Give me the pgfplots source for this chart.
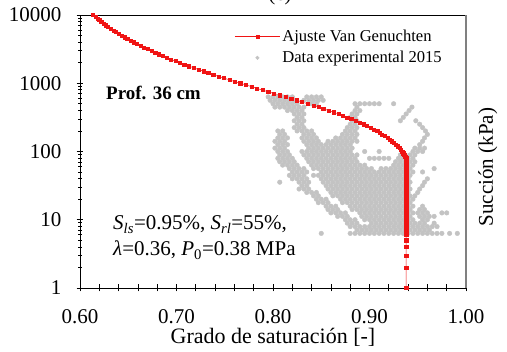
\documentclass[border=0pt]{standalone}
\usepackage{fontspec}
\setmainfont{Liberation Serif}
\usepackage{pgfplots}
\pgfplotsset{compat=1.18}
\definecolor{lgray}{RGB}{195,195,195}
\definecolor{vgred}{RGB}{240,20,20}
\begin{document}
\begin{tikzpicture}
\begin{axis}[
  at={(80pt,64pt)}, anchor=south west,
  scale only axis, width=386pt, height=273pt,
  xmin=0.6, xmax=1.0, ymin=1, ymax=10000, ymode=log,
  xtick={0.6,0.62,0.64,0.66,0.68,0.7,0.72,0.74,0.76,0.78,0.8,0.82,0.84,0.86,0.88,0.9,0.92,0.94,0.96,0.98,1.0},
  xticklabels={0.60,,,,,0.70,,,,,0.80,,,,,0.90,,,,,1.00},
  ytick={1,10,100,1000,10000},
  yticklabels={1,10,100,1000,10000},
  tick pos=left,
  tick align=center,
  major tick length=7pt,
  minor tick length=4pt,
  tick style={black, line width=0.8pt},
  axis line style={black, line width=0.9pt},
  /pgf/number format/assume math mode=true,
  tick label style={font=\fontsize{21}{25}\selectfont},
  xticklabel style={anchor=base, inner sep=0pt, yshift=-32pt},
  yticklabel style={anchor=east, inner sep=0pt, xshift=-15pt},
  xlabel={Grado de saturación [-]},
  xlabel style={at={(axis description cs:0.5,-0.205)}, anchor=base, inner sep=0pt, font=\fontsize{22}{26}\selectfont},
  ylabel={Succión (kPa)},
  ylabel style={at={(axis description cs:1.031,0.443)}, anchor=north, inner sep=0pt, font=\fontsize{21}{25}\selectfont},
  legend style={at={(axis description cs:0.40,0.952)}, anchor=north west, draw=none, fill=none, inner sep=0pt, row sep=4pt, font=\fontsize{16.6}{19}\selectfont},
  legend cell align=left,
  clip=true,
]
\addlegendimage{legend image code/.code={\draw[vgred, line width=0.7pt] (0pt,0pt) -- (45pt,0pt); \fill[vgred] (21.2pt,-1.3pt) rectangle (23.8pt,1.3pt);}}
\addlegendentry{Ajuste Van Genuchten}
\addlegendimage{legend image code/.code={\fill[lgray] (22.5pt,0pt) circle (1.8pt);}}
\addlegendentry{Data experimental 2015}

% experimental data 2015 (degree of saturation, suction kPa)
\addplot[forget plot, only marks, mark=*, mark size=2.3pt, lgray, mark options={draw=lgray, fill=lgray}] coordinates {
(0.795,631)(0.800,631)(0.805,631)(0.810,631)(0.815,631)(0.820,631)(0.835,631)(0.840,631)(0.845,631)(0.850,631)
(0.797,562)(0.802,562)(0.807,562)(0.812,562)(0.817,562)(0.822,562)(0.832,562)(0.837,562)(0.842,562)(0.847,562)(0.852,562)
(0.800,501)(0.805,501)(0.810,501)(0.815,501)(0.820,501)(0.825,501)(0.840,501)(0.845,501)(0.885,501)(0.890,501)(0.895,501)(0.900,501)(0.905,501)(0.910,501)(0.925,501)
(0.802,447)(0.807,447)(0.812,447)(0.817,447)(0.822,447)(0.827,447)(0.832,447)(0.887,447)(0.944,447)
(0.815,398)(0.820,398)(0.825,398)(0.830,398)(0.885,398)(0.890,398)(0.941,398)
(0.822,355)(0.827,355)(0.832,355)(0.882,355)(0.887,355)(0.938,355)
(0.825,316)(0.830,316)(0.880,316)(0.885,316)(0.935,316)
(0.822,282)(0.827,282)(0.832,282)(0.882,282)(0.887,282)(0.932,282)(0.948,282)
(0.825,251)(0.830,251)(0.880,251)(0.885,251)(0.952,251)
(0.822,224)(0.827,224)(0.832,224)(0.877,224)(0.882,224)(0.887,224)(0.955,224)
(0.805,200)(0.810,200)(0.825,200)(0.830,200)(0.835,200)(0.840,200)(0.875,200)(0.880,200)(0.885,200)(0.958,200)
(0.807,178)(0.812,178)(0.832,178)(0.837,178)(0.842,178)(0.872,178)(0.877,178)(0.882,178)(0.887,178)(0.960,178)
(0.805,158)(0.810,158)(0.815,158)(0.830,158)(0.835,158)(0.840,158)(0.845,158)(0.865,158)(0.870,158)(0.875,158)(0.880,158)(0.885,158)(0.957,158)
(0.802,141)(0.807,141)(0.812,141)(0.832,141)(0.837,141)(0.842,141)(0.847,141)(0.857,141)(0.862,141)(0.867,141)(0.872,141)(0.877,141)(0.882,141)(0.887,141)(0.955,141)
(0.805,126)(0.810,126)(0.815,126)(0.835,126)(0.840,126)(0.845,126)(0.850,126)(0.855,126)(0.860,126)(0.865,126)(0.870,126)(0.875,126)(0.880,126)(0.952,126)
(0.802,112)(0.807,112)(0.812,112)(0.837,112)(0.842,112)(0.847,112)(0.852,112)(0.857,112)(0.862,112)(0.867,112)(0.872,112)(0.877,112)(0.882,112)(0.947,112)(0.952,112)(0.957,112)
(0.805,100)(0.810,100)(0.815,100)(0.830,100)(0.835,100)(0.840,100)(0.845,100)(0.850,100)(0.855,100)(0.860,100)(0.865,100)(0.870,100)(0.875,100)(0.880,100)(0.895,100)(0.910,100)(0.945,100)(0.950,100)(0.955,100)
(0.807,89.1)(0.812,89.1)(0.817,89.1)(0.832,89.1)(0.837,89.1)(0.842,89.1)(0.847,89.1)(0.852,89.1)(0.857,89.1)(0.862,89.1)(0.867,89.1)(0.872,89.1)(0.877,89.1)(0.882,89.1)(0.887,89.1)(0.932,89.1)(0.937,89.1)(0.942,89.1)(0.947,89.1)
(0.805,79.4)(0.810,79.4)(0.815,79.4)(0.820,79.4)(0.835,79.4)(0.840,79.4)(0.845,79.4)(0.850,79.4)(0.855,79.4)(0.860,79.4)(0.865,79.4)(0.870,79.4)(0.875,79.4)(0.880,79.4)(0.885,79.4)(0.900,79.4)(0.905,79.4)(0.910,79.4)(0.915,79.4)(0.920,79.4)(0.930,79.4)(0.935,79.4)(0.940,79.4)(0.945,79.4)
(0.807,70.8)(0.812,70.8)(0.817,70.8)(0.822,70.8)(0.837,70.8)(0.842,70.8)(0.847,70.8)(0.852,70.8)(0.857,70.8)(0.862,70.8)(0.867,70.8)(0.872,70.8)(0.877,70.8)(0.882,70.8)(0.887,70.8)(0.927,70.8)(0.932,70.8)(0.937,70.8)(0.942,70.8)(0.947,70.8)
(0.810,63.1)(0.815,63.1)(0.820,63.1)(0.825,63.1)(0.840,63.1)(0.845,63.1)(0.850,63.1)(0.855,63.1)(0.860,63.1)(0.865,63.1)(0.870,63.1)(0.875,63.1)(0.880,63.1)(0.885,63.1)(0.890,63.1)(0.895,63.1)(0.925,63.1)(0.930,63.1)(0.935,63.1)(0.940,63.1)(0.945,63.1)
(0.817,56.2)(0.822,56.2)(0.827,56.2)(0.832,56.2)(0.842,56.2)(0.847,56.2)(0.852,56.2)(0.857,56.2)(0.862,56.2)(0.867,56.2)(0.872,56.2)(0.877,56.2)(0.882,56.2)(0.887,56.2)(0.892,56.2)(0.897,56.2)(0.902,56.2)(0.912,56.2)(0.917,56.2)(0.922,56.2)(0.927,56.2)(0.932,56.2)(0.937,56.2)(0.942,56.2)(0.967,56.2)
(0.820,50.1)(0.825,50.1)(0.830,50.1)(0.835,50.1)(0.850,50.1)(0.855,50.1)(0.860,50.1)(0.865,50.1)(0.870,50.1)(0.875,50.1)(0.880,50.1)(0.885,50.1)(0.890,50.1)(0.895,50.1)(0.900,50.1)(0.905,50.1)(0.910,50.1)(0.915,50.1)(0.920,50.1)(0.925,50.1)(0.930,50.1)(0.935,50.1)(0.940,50.1)(0.945,50.1)(0.955,50.1)
(0.817,44.7)(0.822,44.7)(0.827,44.7)(0.832,44.7)(0.842,44.7)(0.847,44.7)(0.852,44.7)(0.857,44.7)(0.862,44.7)(0.867,44.7)(0.872,44.7)(0.877,44.7)(0.882,44.7)(0.887,44.7)(0.892,44.7)(0.897,44.7)(0.902,44.7)(0.907,44.7)(0.912,44.7)(0.917,44.7)(0.922,44.7)(0.927,44.7)(0.932,44.7)(0.937,44.7)(0.942,44.7)
(0.820,39.8)(0.825,39.8)(0.830,39.8)(0.835,39.8)(0.850,39.8)(0.855,39.8)(0.860,39.8)(0.865,39.8)(0.870,39.8)(0.875,39.8)(0.880,39.8)(0.885,39.8)(0.890,39.8)(0.895,39.8)(0.900,39.8)(0.905,39.8)(0.910,39.8)(0.915,39.8)(0.920,39.8)(0.925,39.8)(0.930,39.8)(0.935,39.8)(0.940,39.8)(0.960,39.8)
(0.807,35.5)(0.827,35.5)(0.832,35.5)(0.837,35.5)(0.852,35.5)(0.857,35.5)(0.862,35.5)(0.867,35.5)(0.872,35.5)(0.877,35.5)(0.882,35.5)(0.887,35.5)(0.892,35.5)(0.897,35.5)(0.902,35.5)(0.907,35.5)(0.912,35.5)(0.917,35.5)(0.922,35.5)(0.927,35.5)(0.932,35.5)(0.937,35.5)(0.942,35.5)(0.957,35.5)
(0.830,31.6)(0.835,31.6)(0.855,31.6)(0.860,31.6)(0.865,31.6)(0.870,31.6)(0.875,31.6)(0.880,31.6)(0.885,31.6)(0.890,31.6)(0.895,31.6)(0.900,31.6)(0.905,31.6)(0.910,31.6)(0.915,31.6)(0.920,31.6)(0.925,31.6)(0.930,31.6)(0.935,31.6)(0.940,31.6)(0.955,31.6)
(0.827,28.2)(0.832,28.2)(0.837,28.2)(0.857,28.2)(0.862,28.2)(0.867,28.2)(0.872,28.2)(0.877,28.2)(0.882,28.2)(0.887,28.2)(0.892,28.2)(0.897,28.2)(0.902,28.2)(0.907,28.2)(0.912,28.2)(0.917,28.2)(0.922,28.2)(0.927,28.2)(0.932,28.2)(0.937,28.2)(0.942,28.2)(0.952,28.2)
(0.835,25.1)(0.840,25.1)(0.845,25.1)(0.860,25.1)(0.865,25.1)(0.870,25.1)(0.875,25.1)(0.880,25.1)(0.885,25.1)(0.890,25.1)(0.895,25.1)(0.900,25.1)(0.905,25.1)(0.910,25.1)(0.915,25.1)(0.920,25.1)(0.925,25.1)(0.930,25.1)(0.935,25.1)(0.940,25.1)(0.950,25.1)
(0.842,22.4)(0.847,22.4)(0.862,22.4)(0.867,22.4)(0.872,22.4)(0.877,22.4)(0.882,22.4)(0.887,22.4)(0.892,22.4)(0.897,22.4)(0.902,22.4)(0.907,22.4)(0.912,22.4)(0.917,22.4)(0.922,22.4)(0.927,22.4)(0.932,22.4)(0.937,22.4)(0.942,22.4)(0.947,22.4)
(0.845,20.0)(0.850,20.0)(0.855,20.0)(0.870,20.0)(0.875,20.0)(0.880,20.0)(0.885,20.0)(0.890,20.0)(0.895,20.0)(0.900,20.0)(0.905,20.0)(0.910,20.0)(0.915,20.0)(0.920,20.0)(0.925,20.0)(0.930,20.0)(0.935,20.0)(0.940,20.0)(0.945,20.0)
(0.847,17.8)(0.852,17.8)(0.857,17.8)(0.872,17.8)(0.877,17.8)(0.882,17.8)(0.887,17.8)(0.892,17.8)(0.897,17.8)(0.902,17.8)(0.907,17.8)(0.912,17.8)(0.917,17.8)(0.922,17.8)(0.927,17.8)(0.932,17.8)(0.937,17.8)(0.942,17.8)
(0.855,15.8)(0.860,15.8)(0.865,15.8)(0.880,15.8)(0.885,15.8)(0.890,15.8)(0.895,15.8)(0.900,15.8)(0.905,15.8)(0.910,15.8)(0.915,15.8)(0.920,15.8)(0.925,15.8)(0.930,15.8)(0.935,15.8)(0.940,15.8)(0.945,15.8)(0.955,15.8)
(0.857,14.1)(0.862,14.1)(0.867,14.1)(0.882,14.1)(0.887,14.1)(0.892,14.1)(0.897,14.1)(0.902,14.1)(0.907,14.1)(0.912,14.1)(0.917,14.1)(0.922,14.1)(0.927,14.1)(0.932,14.1)(0.937,14.1)(0.942,14.1)(0.952,14.1)(0.957,14.1)
(0.860,12.6)(0.865,12.6)(0.870,12.6)(0.875,12.6)(0.890,12.6)(0.895,12.6)(0.900,12.6)(0.905,12.6)(0.910,12.6)(0.915,12.6)(0.920,12.6)(0.925,12.6)(0.930,12.6)(0.935,12.6)(0.940,12.6)(0.945,12.6)(0.950,12.6)(0.955,12.6)(0.960,12.6)(0.975,12.6)(0.980,12.6)
(0.867,11.2)(0.872,11.2)(0.877,11.2)(0.892,11.2)(0.897,11.2)(0.902,11.2)(0.907,11.2)(0.912,11.2)(0.917,11.2)(0.922,11.2)(0.927,11.2)(0.932,11.2)(0.937,11.2)(0.942,11.2)(0.952,11.2)(0.957,11.2)(0.962,11.2)(0.967,11.2)
(0.875,10.0)(0.880,10.0)(0.885,10.0)(0.895,10.0)(0.900,10.0)(0.905,10.0)(0.910,10.0)(0.915,10.0)(0.920,10.0)(0.925,10.0)(0.930,10.0)(0.935,10.0)(0.940,10.0)(0.945,10.0)(0.955,10.0)(0.960,10.0)
(0.877,8.91)(0.882,8.91)(0.887,8.91)(0.902,8.91)(0.907,8.91)(0.912,8.91)(0.917,8.91)(0.922,8.91)(0.927,8.91)(0.932,8.91)(0.937,8.91)(0.942,8.91)(0.947,8.91)(0.952,8.91)(0.957,8.91)(0.967,8.91)
(0.880,7.94)(0.885,7.94)(0.890,7.94)(0.895,7.94)(0.900,7.94)(0.905,7.94)(0.910,7.94)(0.915,7.94)(0.920,7.94)(0.925,7.94)(0.930,7.94)(0.935,7.94)(0.940,7.94)(0.945,7.94)(0.950,7.94)(0.955,7.94)(0.960,7.94)(0.965,7.94)(0.970,7.94)
(0.887,7.08)(0.892,7.08)(0.897,7.08)(0.902,7.08)(0.907,7.08)(0.912,7.08)(0.917,7.08)(0.922,7.08)(0.927,7.08)(0.932,7.08)(0.937,7.08)(0.942,7.08)(0.947,7.08)(0.952,7.08)(0.957,7.08)(0.962,7.08)
(0.850,6.31)(0.880,6.31)(0.885,6.31)(0.890,6.31)(0.895,6.31)(0.900,6.31)(0.905,6.31)(0.910,6.31)(0.915,6.31)(0.920,6.31)(0.925,6.31)(0.930,6.31)(0.935,6.31)(0.940,6.31)(0.945,6.31)(0.950,6.31)(0.955,6.31)(0.960,6.31)(0.965,6.31)(0.970,6.31)(0.975,6.31)(0.983,6.31)(0.991,6.31)
};

% Van Genuchten fit
\addplot[forget plot, vgred, draw=vgred, line width=0.5pt, mark=square*, mark size=1.6pt, mark options={draw=vgred, fill=vgred}] coordinates {
(0.613,10000)(0.616,9441)(0.618,8913)(0.620,8414)(0.622,7943)(0.625,7499)(0.627,7079)(0.629,6683)(0.632,6310)(0.635,5957)
(0.637,5623)(0.640,5309)(0.643,5012)(0.646,4732)(0.649,4467)(0.653,4217)(0.656,3981)(0.659,3758)(0.663,3548)(0.666,3350)
(0.670,3162)(0.674,2985)(0.678,2818)(0.682,2661)(0.686,2512)(0.690,2371)(0.694,2239)(0.699,2113)(0.703,1995)(0.708,1884)
(0.713,1778)(0.718,1679)(0.723,1585)(0.728,1496)(0.733,1413)(0.738,1334)(0.744,1259)(0.749,1189)(0.755,1122)(0.760,1059)
(0.766,1000)(0.772,944)(0.778,891)(0.783,841)(0.789,794)(0.795,750)(0.801,708)(0.807,668)(0.813,631)(0.819,596)
(0.825,562)(0.830,531)(0.836,501)(0.842,473)(0.847,447)(0.852,422)(0.858,398)(0.863,376)(0.868,355)(0.872,335)
(0.877,316)(0.881,299)(0.886,282)(0.890,266)(0.894,251)(0.897,237)(0.901,224)(0.904,211)(0.908,200)(0.911,188)
(0.913,178)(0.916,168)(0.919,158)(0.921,150)(0.923,141)(0.925,133)(0.927,126)(0.929,119)(0.931,112)(0.932,106)
(0.934,100)(0.935,94.4)(0.936,89.1)(0.937,84.1)(0.938,79.4)(0.938,72)(0.938,65)(0.938,58)(0.938,52)(0.938,46)
(0.938,41)(0.938,36)(0.938,32)(0.938,28)(0.938,25)(0.938,22)(0.938,19)(0.938,17)(0.938,15)(0.938,13)
(0.938,11.5)(0.938,10)(0.938,9)(0.938,8)(0.938,7)(0.938,6)(0.938,5)(0.938,4)(0.938,3)(0.938,2)(0.938,1)
};
\end{axis}
\draw[gray, line width=1.2pt] (466pt,64pt) -- (466pt,337pt);
\node[anchor=base west, inner sep=0pt, font=\bfseries\fontsize{19}{22}\selectfont] at (106pt,252pt) {Prof. 36 cm};
\node[anchor=base west, inner sep=0pt, font=\fontsize{21}{25}\selectfont] at (113pt,122pt) {\textit{S}\textsubscript{\textit{ls}}=0.95\%, \textit{S}\textsubscript{\textit{rl}}=55\%,};
\node[anchor=base west, inner sep=0pt, font=\fontsize{21}{25}\selectfont] at (113pt,96pt) {\textit{λ}=0.36, \textit{P}\textsubscript{0}=0.38 MPa};
\node[anchor=base, inner sep=0pt, font=\fontsize{21}{25}\selectfont] at (280pt,351pt) {(c)};
\pgfresetboundingbox
\path[use as bounding box] (0pt,0pt) rectangle (507pt,352pt);
\end{tikzpicture}
\end{document}
